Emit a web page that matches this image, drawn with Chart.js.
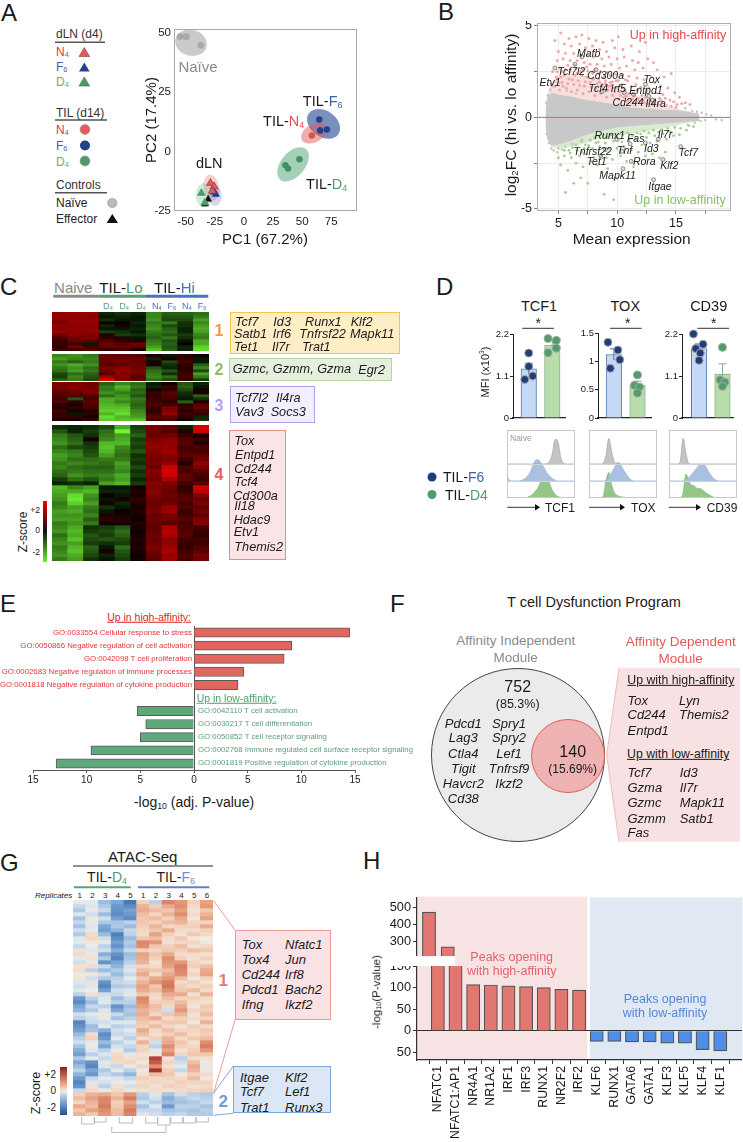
<!DOCTYPE html>
<html>
<head>
<meta charset="utf-8">
<script src="https://cdn.jsdelivr.net/npm/chart.js@4"></script>
<style>
html,body{margin:0;padding:0;background:#fff}
#page{position:relative;width:743px;height:1142px;overflow:hidden;font-family:"Liberation Sans",Arial,sans-serif;color:#1a1a1a}
#page canvas{position:absolute}
.t{position:absolute;white-space:nowrap;line-height:1}
.t sub{font-size:.62em;vertical-align:-.2em;line-height:0}
.b{position:absolute;box-sizing:border-box}
svg{position:absolute;left:0;top:0}
</style>
</head>
<body>
<div id="page">
<svg width="743" height="1142">
  <polygon points="619,667.7 740,667.7 740,841.7 619,841.7 606.7,755" fill="#f8e1e2"/>
  <polyline points="619,667.7 606.7,755 619,841.7" fill="none" stroke="#f0b8b8" stroke-width="1"/>
  <rect x="417" y="896.7" width="170.3" height="163.3" fill="#f8e3e4"/>
  <rect x="590" y="897.5" width="152.5" height="162.5" fill="#dfe8f3"/>
  <rect x="417" y="956.5" width="38" height="9.5" fill="#fff"/>
  <polyline points="213.5,900.7 235,930" fill="none" stroke="#ee9a9a" stroke-width="1"/>
  <polyline points="213.5,1093.3 235,1020" fill="none" stroke="#ee9a9a" stroke-width="1"/>
  <polyline points="213.5,1093.3 233.3,1066" fill="none" stroke="#7ea6e0" stroke-width="1"/>
  <polyline points="213.5,1115.3 233.3,1113.3" fill="none" stroke="#7ea6e0" stroke-width="1"/>
  <path d="M81.7 1117V1124H94.3V1117M94.3 1117V1122H106V1117M119.3 1117V1123H132.7V1117M145.7 1117V1123H157.7V1117M157.7 1117V1125H170V1117M170.7 1117V1123H182.7V1117M183.3 1117V1123H195.7V1117M196 1117V1122H208.3V1117M111.7 1127V1132.5H166V1126" fill="none" stroke="#aaa" stroke-width="0.8"/>
  <path d="M55 42.3H105M55 120H107M55 192.7H107" stroke="#555" stroke-width="1.6"/>
  <path d="M53.3 296.3H98.3" stroke="#8a8a8a" stroke-width="3"/>
  <path d="M98.3 296.3H146" stroke="#5a9e72" stroke-width="3"/>
  <path d="M146 296.3H208.3" stroke="#4a72c0" stroke-width="3"/>
  <path d="M522.3 328.3H554M610 328.3H641.7M697.3 328.3H729" stroke="#333" stroke-width="1"/>
  <path d="M73 866H213" stroke="#222" stroke-width="1"/>
  <path d="M74 887.3H130.7" stroke="#5aa578" stroke-width="2"/>
  <path d="M138 887.3H209.3" stroke="#6a80c0" stroke-width="2"/>
  <path d="M507.3 507.3H536M589 507.3H621M668.7 507.3H697" stroke="#333" stroke-width="1"/>
  <path d="M535 504L540 507.3L535 510.6ZM620 504L625 507.3L620 510.6ZM696 504L701 507.3L696 510.6Z" fill="#111"/>
  <polygon points="84.3,47.5 89.6,56.5 79,56.5" fill="#e55b5b" stroke="#8a3a3a" stroke-width=".6"/>
  <polygon points="84.3,62.5 89.6,71.5 79,71.5" fill="#24408a"/>
  <polygon points="84.3,77 89.6,86 79,86" fill="#4e9a66" stroke="#3a6a4a" stroke-width=".6"/>
  <circle cx="85" cy="129.5" r="5" fill="#e55b5b" stroke="#999" stroke-width=".6"/>
  <circle cx="85" cy="145.5" r="5" fill="#24408a"/>
  <circle cx="85" cy="161" r="5" fill="#4e9a66" stroke="#999" stroke-width=".6"/>
  <circle cx="112.3" cy="203" r="4.6" fill="#bbb" stroke="#888" stroke-width=".6"/>
  <polygon points="112.3,214 118,223 106.6,223" fill="#111"/>
  <circle cx="432" cy="477" r="4.5" fill="#1f3d7a"/>
  <circle cx="432" cy="494.5" r="4.5" fill="#4f9d69"/>
</svg>
</div>
<script>
// panel A
const pcNaive = [[-54.6,48.3],[-49.4,48.3],[-37,44.7]];
const pcTilF6 = [[64.7,13.5],[71.3,9.3],[65.5,8.9]];
const pcTilN4 = [[58.3,6.8],[65.5,9]];
const pcTilD4 = [[35.6,-5.7],[37.9,-7.1],[47.7,-3.2]];
const pcDlnN4 = [[-28.7,-13.2],[-25.6,-14.6],[-27,-16.5]];
const pcDlnF6 = [[-24.1,-17.9],[-25.5,-17]];
const pcDlnD4 = [[-36.5,-17.4],[-33.6,-21.4]];
const pcEffector = [[-30.7,-20],[-33.3,-22]];
const pcCentres = [[-45.4,45.7],[68.4,11.7],[60.3,7.8],[42.2,-5.3],[-27.9,-15.1],[-25,-18.6],[-34.5,-18.3]];
const pcTicksX = [-50,-25,0,25,50,75];
const pcTicksY = [-25,0,25,50];

// panel B
const maBandX = [3.9,4.05,4.4,5,6,7,8,9,10,11,12,13,14,15,16,17];
const maPinkUp = [.5,1.2,1.9,2.3,2.4,2.35,2.1,1.85,1.6,1.35,1.1,.85,.65,.5,.35,.2];
const maGreyUp = [.5,1.1,1.35,1.25,1.15,1,.9,.8,.7,.55,.5,.45,.4,.4,.3,.2];
const maGreyLo = [-.5,-1.2,-1.55,-1.5,-1.3,-1.05,-.85,-.7,-.55,-.5,-.45,-.4,-.35,-.3,-.25,-.2];
const maGreenLo = [-.5,-1.2,-1.6,-1.7,-1.6,-1.45,-1.25,-1.1,-1,-.9,-.8,-.7,-.6,-.45,-.3,-.2];
const maHigh = [[5.2,4.6],[5.9,4.3],[6.5,4.4],[7,4.5],[7.6,4.3],[8.2,4.2],[8.8,4.1],[9.6,4.2],[10.1,4.4],[4.7,4.2],[5.5,4],[6.1,3.9],[6.8,4],[7.3,3.8],[7.9,3.9],[8.5,3.7],[9.1,3.6],[9.8,3.8],[10.5,3.7],[11.2,3.9],[11.9,3.6],[12.4,4.1],[5,3.6],[5.6,3.5],[6.3,3.5],[6.9,3.4],[7.5,3.4],[8,3.3],[8.7,3.2],[9.3,3.3],[10,3.2],[10.6,3.3],[11.3,3.1],[11.8,3],[12.6,3.2],[13.1,3],[4.9,3.1],[5.4,3.2],[6,3.1],[6.6,3.1],[7.2,3],[7.7,2.9],[8.3,2.9],[8.9,2.8],[9.5,2.9],[10.2,2.7],[10.8,2.8],[11.5,2.6],[12.2,2.7],[13.4,2.6],[14,2.2],[14.6,2.4],[5.1,2.7],[5.8,2.85],[6.4,2.85],[7.4,2.75],[8.1,2.6],[8.6,2.5],[9.2,2.45],[9.9,2.35],[10.4,2.3],[11,2.25],[11.7,2.15],[12.3,2.05],[12.9,2.2],[13.2,1.9],[13.7,1.7],[14.3,1.6],[14.9,1.35],[15.3,1.1],[13.9,1.25],[12.7,1.6],[14.5,.95],[15.8,.8],[16.2,.7],[15.5,.75],[4.5,2.5],[4.4,1.8],[4.8,2.2],[10.9,2],[11.6,1.8],[12,1.65],[13.3,1.35],[14.1,1.05],[14.8,.85],[13.6,1.05],[9.4,2.3],[10.7,2.05],[12.5,1.45],[15.1,.7],
[5.1,1.5],[5.3,1.9],[5.5,2.3],[5.7,1.6],[5.9,2.1],[6.1,1.4],[6.3,1.8],[6.4,2.3],[6.6,1.5],[6.7,2],[6.9,2.5],[7.1,1.3],[7.2,1.7],[7.4,2.2],[7.6,1.4],[7.7,1.9],[7.9,2.4],[8.1,1.2],[8.2,1.6],[8.4,2.1],[8.6,1.3],[8.7,1.8],[8.9,2.2],[9.1,1.1],[9.2,1.5],[9.4,1.9],[9.6,1.2],[9.7,1.6],[9.9,2],[10.1,1],[10.2,1.4],[10.4,1.8],[10.6,1.1],[10.7,1.5],[10.9,.9],[11,1.3],[11.2,1.7],[11.4,.8],[11.5,1.2],[11.7,1.5],[11.9,.9],[12.1,1.2],[12.3,.8],[12.4,1.1],[12.6,.75],[12.8,1],[13,.7],[13.2,1],[13.5,.7],[13.8,.8],[14.2,.65],[14.6,.6],[15,.55],[5.2,2.2],[5.6,2.6],[6,2.5],[6.5,2.65],[7,2.3],[7.5,2.55],[8,2.1],[8.5,1.95],[9,2],[9.5,1.75],[10,1.65],[10.5,1.6],[5,1.9],[5.4,1.7],[5.8,1.85],[6.2,2.05],[6.8,1.75],[7.3,1.95],[7.8,1.65],[8.3,1.85],[8.8,1.5],[9.3,1.7],[9.8,1.4],[10.3,1.2],[10.8,1.15],[11.3,1],[11.8,1.05],[12.2,.95],[13.1,.8],[13.7,.95],[4.7,1.7],[4.9,2.5],[5.3,2.5],[6.6,2.4],[7.1,2.6],[7.9,2.1],[8.4,2.4],[9,1.85],[9.6,1.95],[10.1,2]];
const maLow = [[5.6,-4.1],[6.9,-3.3],[7.5,-3.6],[8.9,-4.2],[9.7,-4.5],[6.3,-3.6],[5.2,-2.6],[5.8,-2.9],[6.5,-2.5],[7.1,-2.7],[7.8,-2.4],[8.3,-2.6],[8.7,-3],[9.2,-2.8],[9.9,-3.3],[5,-2.2],[5.5,-2.1],[6.1,-2.2],[6.8,-2.1],[7.4,-2],[8,-2.2],[8.6,-2.1],[9.1,-2.2],[9.6,-2.3],[10.3,-2.1],[10.8,-2.4],[11.4,-2.7],[5.9,-1.8],[6.6,-1.8],[7.2,-1.7],[7.9,-1.7],[8.5,-1.6],[9.3,-1.7],[10,-1.7],[10.6,-1.6],[11.2,-1.8],[11.8,-1.9],[12.4,-2.1],[13,-2],[13.6,-2.2],[14.1,-1.9],[12.1,-1.5],[12.8,-1.4],[13.4,-1.3],[14.2,-1.2],[14.8,-1],[15.3,-.95],[15.9,-.7],[16.5,-.5],[10.4,-1.35],[11,-1.25],[11.6,-1.2],[12.5,-1.1],[13.2,-1],[13.9,-.9],[14.6,-.8],[6.2,-1.65],[7.6,-1.55],[8.2,-1.4],[9,-1.4],[9.7,-1.3],[15.4,-.6],[16.1,-.45],[14.4,-.75],[7,-1.3],[7.3,-1.5],[7.7,-1.25],[8.1,-1.1],[8.4,-1.35],[8.8,-1],[9.2,-1.1],[9.5,-.95],[9.9,-1.05],[10.2,-.9],[10.5,-.95],[10.9,-.85],[11.3,-1],[11.7,-.85],[12,-.9],[12.3,-.75],[12.7,-.85],[13.1,-.7],[13.5,-.8],[13.8,-.65],[14.3,-.6],[14.9,-.55],[6.5,-1.5],[5.5,-1.8],[6,-1.95],[7,-1.9]];
const maGreyExtra = [[4.3,1.5],[4.5,1.7],[4.1,1.2],[4.6,-1.8],[4.9,-1.9],[5.3,-1.75],[4.2,-1.4],[4.4,-1.7],[16.4,.35],[16.8,.3],[17.2,.25],[17.6,.15],[18,.1],[16.6,-.3],[17.1,-.2],[17.5,-.15],[18.4,-.1],[18.9,-.15],[15.8,.5],[16,-.4],[5.7,1.45],[6.5,1.3],[3.95,.8],[4,-.9],[5,-1.7],[5.6,-1.6],[6.2,-1.45],[7,-1.2]];
const maGenes = [[7,3.3],[6.4,2.9],[4.7,2.7],[8.2,2.6],[12.4,1.8],[8.7,1.4],[10.6,1.35],[12.7,1.15],[11.4,1.25],[13,.95],[10,-1.2],[11.1,-1.45],[13.5,-1.2],[9,-1.75],[10.4,-1.85],[12.4,-1.4],[15.4,-1.6],[8.6,-2.1],[11.2,-2.4],[13.9,-2.3],[10.5,-2.8],[13.1,-3.4]];
const maTicksX = [5,10,15];
const maTicksY = [-5,0,5];
const maGridX = [5,7.5,10,12.5,15,17.5];
const maZero = [[3.18,0],[19.69,0]];

// panel C
const rnaCols = ['Naive 1','Naive 2','Naive 3','D4','D4','D4','N4','F6','N4','F6'];
const rnaCluster1 = [
[1.2,1.2,1.2,-.2,-.3,-.2,-1,-.7,-.7,-.8],[1.2,1.2,1.1,-.1,-.2,-.1,-1,-.6,-.6,-.9],[1.1,1.2,1.2,-.3,-.1,-.1,-1.1,-.5,-.5,-1.2],
[1,1.2,1.2,0,0,-.2,-.9,-.9,-.3,-1],[1.2,1.1,1.1,-.2,.1,-.1,-1,-.5,-.3,-1.2],[1.1,1.2,1.2,-.1,-.1,-.2,-1.1,-.7,-.2,-1.3],
[1.2,1.1,1.2,-.4,-.3,-.1,-.9,-.8,-.2,-1.2],[.9,1.1,1,.2,-.4,-.3,-.8,-.6,-.4,-1],[.6,.9,1,.3,.2,-.1,-.7,-.9,-.3,-.9],
[.4,.8,.7,.6,.3,.2,-.9,-.6,-.1,-1.3],[.4,.5,-.1,.9,.7,.9,-1,-.7,0,-1.3],[.3,.9,.5,.8,.8,.7,-1.2,-.6,-.2,-1.6],[.4,.4,.6,.3,.5,.1,-1.5,-.7,-.2,-1.7]];
const rnaCluster2 = [
[-1,-1.1,-.9,.9,.8,.7,.1,-.1,.3,.1],[-1.2,-1,-1,.8,.9,.9,-.2,.1,.4,-.1],[-.9,-.7,-.9,.8,.9,.8,.2,-.5,.5,-.1],
[-1.1,-1.3,-1.1,.7,.8,.9,.1,-.3,.3,-.7],[-.9,-1.1,-.8,1,1.1,.9,-.6,-.2,.2,-1],[-.8,-1.2,-.9,.9,1.2,1,-.8,-.6,.3,-.5],
[-.5,-.8,-.7,.6,1.1,.9,-.9,-.3,.5,-1.2],[-.4,-1,-.6,1.3,1.1,.7,-1,-.8,.5,-.9],[-.7,-.9,-.5,1.9,1,.7,-.8,-.5,.3,-.4]];
const rnaCluster3 = [
[1,1,.9,-.7,-1,-.8,-.1,.1,-.6,-.2],[1,1.1,1,-.9,-1.4,-.9,-.2,.4,-.7,-.1],[.9,1,1,-.9,-1.2,-.7,.1,.3,-.5,.1],
[.7,.8,1,-1.1,-.9,-.8,.4,.7,-.3,.1],[.6,.6,.7,-.8,-1.1,-.6,.3,.6,-.2,-.7],[.5,-.6,.5,-1.3,-1.2,-.9,.4,.5,-.1,-.3],
[.6,.3,.7,-1.3,-1,-.8,.5,.3,-.7,.2],[.3,.1,.6,-1.4,-1.3,-.7,.6,.5,.3,.7],[.2,.3,.5,-1.5,-1.5,-.8,.4,1,.4,.8],
[.5,.1,.2,-1.6,-1.6,-1,.3,1.1,.2,.5],[.3,-.1,.3,-1.4,-1.7,-1.1,.5,1.2,.5,.4],[.4,.3,.1,-1.7,-1.4,-1.2,.7,.8,.3,-.2],[.2,.1,.4,-1.6,-1.5,-1.5,.5,.6,.1,-.3]];
const rnaCluster4 = [
[-.3,-.2,-.3,-.5,-1.3,-.4,1,.8,-.2,1.8],[-.6,-.2,-.4,-.8,-1.9,-.5,.9,.7,.2,1.7],[-.9,-.6,-.3,-.9,-1.2,-.7,.8,.9,.4,.1],
[-1,-.7,.1,-1,-1.3,-.4,1,1.1,.6,.4],[-1.1,-.8,-.3,-1.4,-1.4,-.5,1.1,1.2,.7,.2],[-.8,-.5,-.4,-1.5,-1,-.4,1.2,1.2,.5,.6],
[-1,-.9,-.5,-1.4,-.9,-.6,1.1,1.3,.6,.5],[-1.2,-1,-.6,-1.2,-.8,-.3,1,1.1,.7,.8],[-1.1,-.8,-.8,-.9,-.9,-.4,.9,1,.5,.9],
[-.9,-1,-.9,-.8,-1.2,-.3,1,1.2,.2,1.2],[-1,-.8,-.7,-.7,-1.1,-.5,.8,1.7,.6,1],[-.8,-.9,-.8,-.8,-1,-.3,1.1,1.8,.5,.7],
[-.7,-1.1,-.9,-1,-1.3,-.4,1,1.7,.8,.5],[-.4,-.8,-.6,-.9,-1.2,-.2,.9,1.4,.7,.4],[-.2,-.3,-.2,-1.2,-1.4,-.4,1.1,1,.5,.7],
[-1.4,-1,-1.2,-.1,-.1,.1,1,.9,.3,1.7],[-1.3,-1.3,-1.4,-.2,-.2,.2,1.1,.8,.4,1.6],[-1.2,-1.7,-1.1,0,-.1,.1,1,.9,.6,1.1],
[-1.1,-1.8,-1,-.1,.1,.3,.9,.8,.7,.8],[-.9,-1.6,-1.2,.1,-.2,.2,.8,.9,.5,1],[-1,-1.2,-.9,-.3,-.1,.1,.9,1.2,.6,.7],
[-1.2,-1.3,-.8,-.1,0,.2,1,1.3,.4,.9],[-1.1,-1.1,-1,.2,.1,.1,.8,1,.5,.7],[-1.2,-1.2,-.7,.3,.2,0,.9,.9,.7,1],
[-.9,-1.1,-.9,.1,.1,.2,.8,.7,.5,1.1],[-1,-1.3,-.3,-.4,-.6,.1,.7,1.4,.6,.5],[-1.1,-1.4,-.4,-.5,-.8,0,.8,1.5,.6,.4],
[-.8,-1.3,-.6,-.4,-.7,.1,.9,1.4,.7,.3],[-1,-1.5,-.5,-.6,-.5,.2,.8,1.1,.5,.5],[-1.1,-1.2,-.4,-.3,-.4,.1,.9,1.2,.4,.4],
[-.9,-1.4,-.7,-.1,-.8,.2,1,1.3,.3,.6],[-1,-1.5,-.6,.1,-.6,.1,.9,1.4,.5,.7],[-1.1,-1.3,-.5,-.2,-.5,0,.8,1.2,.6,1],[-.9,-1.2,-.3,-.1,-.4,.1,.7,1.3,.5,.9]];

// panel D
const mfiGroups = [0,1];
const tcf1Means = [1.29,1.91], tcf1Errs = [.14,.13];
const tcf1F6X = [0,0,.17,-.17], tcf1F6Y = [1.7,1.35,1.1,1.01];
const tcf1D4X = [-.18,.17,-.18,.17], tcf1D4Y = [2.08,2.03,1.71,1.83];
const toxMeans = [1.12,.58], toxErrs = [.1,.07];
const toxF6X = [-.25,.17,.25,-.15], toxF6Y = [1.335,1.2,1.03,.876];
const toxD4X = [0,-.13,.08,0], toxD4Y = [.76,.576,.547,.44];
const cd39Means = [1.82,1.15], cd39Errs = [.12,.27];
const cd39F6X = [-.24,.17,-.14,.05,0], cd39F6Y = [2.2,1.93,1.82,1.7,1.51];
const cd39D4X = [0,-.1,.1,0], cd39D4Y = [1.85,1,.94,.83];
const histBins = ['0','1','2','3','4','5','6','7','8','9','10','11','12','13','14','15','16','17','18','19','20','21','22','23','24'];
const tcf1Naive = [0,0,0,0,0,0,0,0,0,0,0,0,0,0,.03,.15,.6,1.45,1.3,.35,.05,0,0,0,0];
const tcf1F6 = [.3,.03,0,0,0,.03,.1,.25,.45,.85,1.2,1.25,1.05,.8,.5,.3,.15,.05,0,0,0,0,0,0,0];
const tcf1D4 = [0,0,0,0,0,0,0,.03,.1,.2,.4,.6,1,1.25,1.2,.85,.45,.2,.08,.04,.02,0,.02,0,0];
const toxNaive = [0,0,0,0,0,.05,.5,1.5,.7,.1,0,0,0,0,0,0,0,0,0,0,0,0,0,0,0];
const toxF6 = [0,0,0,0,0,0,.03,.15,.5,.8,1.1,1,.7,.45,.2,.05,0,0,0,0,0,0,0,0,0];
const toxD4 = [0,0,0,0,.02,.1,1,1.5,.75,.3,.15,.08,.05,.03,.02,0,.01,0,0,0,0,0,0,0,0];
const cd39Naive = [0,0,0,0,.2,1.5,.6,.03,0,0,0,0,0,0,0,0,0,0,0,0,0,0,0,0,0];
const cd39F6 = [0,0,0,0,0,0,.05,.2,.4,.6,.8,1,.95,.85,.55,.3,.1,.02,0,0,0,0,0,0,0];
const cd39D4 = [0,0,0,0,0,.3,1.4,1,.75,.7,.55,.55,.45,.3,.2,.1,.03,0,0,0,0,0,0,0,0];

// panel E
const goTerms = ['GO:0033554 Cellular response to stress','GO:0050866 Negative regulation of cell activation','GO:0042098 T cell proliferation','GO:0002683 Negative regulation of immune processes','GO:0001818 Negative regulation of cytokine production','','GO:0042110 T cell activation','GO:0030217 T cell differentiation','GO:0050852 T cell receptor signaling','GO:0002768 Immune regulated cell surface receptor signaling','GO:0001819 Positive regulation of cytokine production'];
const goValues = [14.5,9.1,8.4,4.65,4.1,null,-5.3,-4.5,-5,-9.6,-12.85];
const goTicks = [-15,-10,-5,0,5,10,15];

// panel F
const vennX = [88,138];
const vennY = [90,91];
const vennCounts = [752,140];

// panel G
const atacCols = ['D4-1','D4-2','D4-3','D4-4','D4-5','F6-1','F6-2','F6-3','F6-4','F6-5','F6-6'];
const atacRows = [
[-.1,-.2,-.9,-1.2,-1.9,.5,-.6,1.3,1.1,.5,1],[-.5,-.3,-.7,-1.4,-1.6,.8,.5,.9,1.2,.3,1.1],[-.7,-.1,-.5,-1.5,-1.3,.9,.7,.6,1,.2,.6],
[-.3,-.4,-.9,-1.6,-1.4,.7,.4,.8,1.2,.3,.8],[-.8,-.2,-.4,-1.3,-1.6,.6,.7,.5,.9,.1,1],[-.5,.1,-.7,-.8,-.6,.6,.5,.7,.8,.4,.4],
[-.8,-.3,-1.2,-.7,-.9,.5,.8,.4,.5,.5,.9],[-.4,-.2,-1.3,-1,-.5,.4,.6,.9,.3,.3,.5],[-.7,.3,-.9,-1.8,-.6,.3,1,.5,.2,.6,.3],
[-.3,.4,-.4,-1.6,-.9,.6,.7,.3,.6,.1,0],[-.2,.1,-.2,-1.3,-.7,1.3,1.1,.2,.4,.4,.1],[-.5,-.1,-.6,-1.5,-.8,1.2,.6,.5,.7,.2,.4],
[.2,-.3,-.4,-1.1,-.5,.5,.4,.6,.5,.7,.6],[.3,.1,-1.1,-1.5,-.9,1,.6,.9,.3,.3,.2],[-.2,.2,-.7,-1.7,-.8,.9,.5,1.2,.5,.2,.5],
[-.4,-.2,-1.5,-1.2,-.6,.8,.2,1.1,1.1,.4,.2],[.2,.3,-.5,-1,-.4,.4,.3,1,1.4,.5,.7],[.3,-.6,-.9,-.7,-.3,.7,.6,.7,1.3,.2,.9],
[-.1,.1,-.4,-.9,-.5,.9,.3,.9,1.2,.4,1],[.1,-.4,-.7,-.6,-.2,.6,.9,1.1,.7,.1,.4],[-.3,.2,-1.5,-.5,-.4,.8,1.1,1.4,.3,.5,.2],
[-.4,-.3,-1.7,-.7,-.6,1,.6,1.5,.5,.3,.5],[-.2,0,-1.3,-.4,-.3,.9,.7,1.2,.6,.7,.3],[-.6,.2,-.4,-.5,-.2,.6,.4,.9,.9,.2,.8],
[-1.4,-.6,-.3,-.9,-.5,1.3,.3,.7,.4,.5,.3],[-1.6,-.9,-.2,-.6,-.6,1.2,.5,.5,.7,.3,.2],[-1.2,-.5,-.6,-1.5,-.9,1,.7,.3,.9,.1,.6],
[-1,-.7,-.3,-1.2,-.7,.8,.6,-.4,1.1,.4,.5],[-.4,-.2,.1,-.5,-.8,.9,.4,.6,.8,.2,.7],[-.6,-.4,-.2,-.8,-.6,.7,.9,.3,.5,.3,.4],
[-1.7,-.5,-.4,-.3,-.3,.6,.4,.6,.6,.1,.8],[-1.5,-.9,-.2,-.6,-.5,.5,.7,.4,.2,.5,.3],[-1.3,-.8,-1.1,-.4,-.2,.9,.3,.7,.4,.4,.6],
[-.9,.3,-1.6,-.5,-.4,.7,.2,.5,.7,.3,.5],[-.6,.5,-1.4,-.2,-.6,.3,.5,.8,.3,.6,.7],[-.4,-.2,-.9,-.6,-.3,.8,-.4,.9,.6,.2,1.2],
[-.8,.1,-1.2,-.4,-.5,.4,-.6,1.2,.5,.4,1.4],[-1.1,-.3,-.6,-.1,-.7,.5,-.2,1,.2,.5,1.1],[-1.3,-.6,-.3,.3,-.2,.2,.1,1.3,.4,.6,.6],
[-.7,-.2,-.5,.4,.2,.3,2.1,.2,-.6,.3,.2],[-1.2,-1.5,-.2,.3,.4,.1,1.8,.4,-.4,.7,.1],[-.9,-1.7,-.3,-.5,.1,.4,1.2,.2,-.2,.9,-.2],
[-.6,-1.2,-.7,-.2,-.6,-.1,2.3,.5,-.5,.8,.1],[-1,-1.4,-.5,-.7,-1,.2,.7,.6,.1,.5,.3],[-1.4,-.5,-.2,-.3,-.5,.5,.3,.4,.3,.7,.1],
[-1.7,-.3,-.4,-.1,-.2,.3,.4,.3,.5,.4,.4],[-1.5,.2,-.6,.2,-.4,.4,.2,.5,.4,.2,.3],[-.5,.3,-.1,.4,.1,.2,.3,.2,.3,.4,.5],
[.5,.8,.9,.6,1.1,-.6,-.3,-.8,-.4,-.6,-.7],[.7,1,1.3,.8,1.4,-.7,-.4,-1.1,-.7,-.5,-.6],[.4,.8,1.3,.5,1,-.4,-.6,-.9,-.8,-.7,-.5],
[.9,.7,1.4,.6,1.2,-.8,-.3,-1.4,-.6,-.6,-.8],[.6,1,1.2,.7,1.4,-.5,-.5,-.8,-.7,-.8,-.6],[.8,.6,1.1,.7,1.3,-.3,-.4,-.6,-.5,-.7,-.7]];
const replicateLabels = [1,2,3,4,5,1,2,3,4,5,6];

// panel H
const motifNames = ['NFATC1','NFATC1:AP1','NR4A1','NR1A2','IRF1','IRF3','RUNX1','NR2F2','IRF2','KLF6','RUNX1','GATA6','GATA1','KLF3','KLF5','KLF4','KLF1'];
const motifValues = [471,270,107,106,104,102,100,96,94,-25,-25,-26,-26,-29,-29,-44,-47];
const motifTicksUpper = [300,400,500];
const motifTicksLower = [-50,0,50,100,150];

const FONT = '"Liberation Sans"';
Chart.defaults.font.family = FONT;
Chart.defaults.color = '#1a1a1a';
Chart.defaults.animation = false;
Chart.defaults.responsive = false;
Chart.defaults.events = [];
Chart.defaults.plugins.legend.display = false;
Chart.defaults.plugins.tooltip.enabled = false;

const page = document.getElementById('page');

// area is the plot rectangle in page pixels, pad the room round it for axes
function addChart(area, pad, cfg) {
  const [x0, y0, x1, y1] = area;
  const ex = pad.x || 0;
  const c = document.createElement('canvas');
  c.width = x1 - x0 + pad.l + pad.r + 2 * ex;
  c.height = y1 - y0 + pad.t + pad.b;
  c.style.left = (x0 - pad.l - ex) + 'px';
  c.style.top = (y0 - pad.t) + 'px';
  c.style.width = c.width + 'px';
  c.style.height = c.height + 'px';
  page.appendChild(c);
  cfg.options = cfg.options || {};
  cfg.options.maintainAspectRatio = false;
  // autoPadding off, otherwise big points shrink the plot rectangle
  cfg.options.layout = {autoPadding: false, padding: {left: ex, right: pad.r + ex, top: pad.t, bottom: 0}};
  return new Chart(c, cfg);
}

function axis(size, list, o) {
  const base = {
    display: true,
    afterBuildTicks: s => { s.ticks = list.map(v => ({value: v})); },
    afterFit: s => {
      if (s.isHorizontal()) s.height = size; else s.width = size;
      s.paddingLeft = s.paddingRight = s.paddingTop = s.paddingBottom = 0;
    },
    grid: {display: false, drawTicks: false},
    border: {display: false},
    ticks: {autoSkip: false, maxRotation: 0, minRotation: 0, callback: v => String(v)}
  };
  return Object.assign(base, o);
}

function hidden(o) { return Object.assign({display: false}, o); }

function text(x, y, html, o) {
  o = o || {};
  const d = document.createElement('div');
  d.className = 't';
  d.innerHTML = html;
  const ax = o.a === 'c' ? '-50%' : o.a === 'r' ? '-100%' : '0';
  d.style.left = x + 'px';
  d.style.top = y + 'px';
  d.style.fontSize = (o.s || 12) + 'px';
  if (o.c) d.style.color = o.c;
  if (o.i) d.style.fontStyle = 'italic';
  if (o.b) d.style.fontWeight = 'bold';
  if (o.u) d.style.textDecoration = 'underline';
  d.style.transform = 'translate(' + ax + ',-50%)' + (o.rot ? ' rotate(' + o.rot + 'deg)' : '');
  page.appendChild(d);
}

function box(x0, y0, x1, y1, fill, border) {
  const d = document.createElement('div');
  d.className = 'b';
  d.style.cssText = 'left:' + x0 + 'px;top:' + y0 + 'px;width:' + (x1 - x0) + 'px;height:' + (y1 - y0) + 'px;background:' + fill + ';border:' + (border ? '1.2px solid ' + border : 'none');
  page.appendChild(d);
}

const pairs = list => list.map(p => ({x: p[0], y: p[1]}));
const zip = (xs, ys) => xs.map((x, i) => ({x: x, y: ys[i]}));

// coloured boxes that sit behind everything
box(230, 312.3, 400, 354.3, '#fdeec6', '#f6c44e');
box(229.3, 357.7, 391.7, 381.3, '#e5efdd', '#b7d2a4');
box(230.3, 386.3, 314.7, 422.7, '#f3efff', '#b69cf0');
box(229.3, 430.3, 285.7, 560.3, '#fae4e6', '#e98c8c');
box(235, 930, 330.7, 1020, '#f8e2e3', '#ee9a9a');
box(233.3, 1066, 330.7, 1113.3, '#dce7f5', '#7ea6e0');
box(60.3, 1067.3, 66.7, 1115.3, 'linear-gradient(#8f1d22,#e8a585 35%,#f0ebe4 50%,#9dbde0 65%,#214f94)');
box(42.7, 501, 47.3, 562.3, 'linear-gradient(#ee0000,#111 50%,#6cf02c)');

// ---- A: PCA
const ellipseShapes = [
  [16, 13, 15, 'rgba(150,150,150,.5)'],
  [18, 13, 35, 'rgba(40,75,150,.62)'],
  [14, 9, -30, 'rgba(228,90,90,.5)'],
  [20, 12, -50, 'rgba(90,170,125,.55)'],
  [13, 8, 80, 'rgba(228,110,110,.32)'],
  [10, 7, 90, 'rgba(70,100,190,.25)'],
  [12, 8, 90, 'rgba(110,190,140,.3)']
];
const pcEllipses = {
  id: 'pcEllipses',
  beforeDatasetsDraw(chart) {
    const ctx = chart.ctx, sx = chart.scales.x, sy = chart.scales.y;
    pcCentres.forEach((c, i) => {
      const e = ellipseShapes[i];
      ctx.beginPath();
      ctx.ellipse(sx.getPixelForValue(c[0]), sy.getPixelForValue(c[1]), e[0], e[1], e[2] * Math.PI / 180, 0, 7);
      ctx.fillStyle = e[3];
      ctx.fill();
    });
  }
};
const dot = (list, color, style, r, edge) => ({data: pairs(list), backgroundColor: color, borderColor: edge || color, borderWidth: .6, pointStyle: style, pointRadius: r});
addChart([174, 29, 357, 211], {l: 30, b: 20, t: 2, r: 3}, {
  type: 'scatter',
  data: {datasets: [
    dot(pcNaive, '#a9a9a9', 'circle', 3.2),
    dot(pcTilF6, '#24408a', 'circle', 3),
    dot(pcTilN4, '#df5050', 'circle', 3),
    dot(pcTilD4, '#3f9160', 'circle', 3),
    dot(pcDlnN4, '#e55b5b', 'triangle', 4.6, '#7a3030'),
    dot(pcDlnF6, '#24408a', 'triangle', 4.2),
    dot(pcDlnD4, '#4e9a66', 'triangle', 4.6),
    dot(pcEffector, '#111', 'triangle', 4)
  ]},
  options: {scales: {
    x: axis(20, pcTicksX, {min: -60, max: 97.1, ticks: {autoSkip: false, maxRotation: 0, padding: 4, font: {size: 11.5}, callback: v => String(v)}}),
    y: axis(30, pcTicksY, {min: -24.9, max: 51.5, ticks: {autoSkip: false, padding: 3, font: {size: 11.5}, callback: v => String(v)}})
  }},
  plugins: [pcEllipses]
});
box(174, 29, 357, 211, 'transparent', '#a8a8a8');

// ---- B: MA plot
const band = (ys, color) => ({data: zip(maBandX, ys), showLine: true, pointRadius: 0, borderWidth: 0, borderColor: 'transparent', backgroundColor: color, fill: color ? '+1' : false});
const speck = (list, color, r) => ({data: pairs(list), backgroundColor: color, borderWidth: 0, pointRadius: r});
addChart([537, 23, 731, 211], {l: 22, b: 20, t: 2, r: 3}, {
  type: 'scatter',
  data: {datasets: [
    {data: pairs(maZero), showLine: true, pointRadius: 0, borderWidth: 1, borderColor: '#d9605a'},
    {data: pairs(maGenes), backgroundColor: 'rgba(190,190,190,.5)', borderColor: '#666', borderWidth: .7, pointRadius: 2},
    speck(maGreyExtra, '#c6c6c6', 1.3),
    band(maGreyUp, '#c8c8c8'),
    band(maGreyLo, null),
    speck(maHigh, '#eeaaa8', 1.5),
    speck(maLow, '#a4ce90', 1.4),
    band(maPinkUp, '#f8dfdd'),
    band(maGreyUp, null),
    band(maGreyLo, '#d8ead0'),
    band(maGreenLo, null)
  ]},
  options: {scales: {
    x: axis(20, maGridX, {min: 3.18, max: 19.69, grid: {display: true, color: '#ececec', drawTicks: true, tickColor: '#888', tickLength: 3}, ticks: {autoSkip: false, maxRotation: 0, padding: 2, font: {size: 12.5}, callback: v => maTicksX.includes(v) ? String(v) : ''}}),
    y: axis(22, [-5, -2.5, 0, 2.5, 5], {min: -5.11, max: 5.15, grid: {display: true, color: '#ececec', drawTicks: true, tickColor: '#888', tickLength: 3}, ticks: {autoSkip: false, padding: 2, font: {size: 12.5}, callback: v => maTicksY.includes(v) ? String(v) : ''}})
  }}
});
box(537, 23, 731, 211, 'transparent', '#b0b0b0');

// ---- C and G heatmaps
function heat(area, cols, rows, colour) {
  addChart(area, {l: 0, b: 0, t: 0, r: 0}, {
    type: 'bar',
    data: {
      labels: cols,
      datasets: rows.map(r => ({data: r.map(() => 1), backgroundColor: r.map(colour), borderWidth: 0, barPercentage: 1, categoryPercentage: 1}))
    },
    options: {scales: {x: hidden({stacked: true}), y: hidden({stacked: true, reverse: true, min: 0, max: rows.length})}}
  });
}
function redGreen(z) {
  const k = Math.min(Math.abs(z) / 2, 1);
  if (z >= 0) return 'rgb(' + Math.round(12 + 225 * k) + ',0,0)';
  return 'rgb(' + Math.round(118 * k) + ',' + Math.round(12 + 243 * k) + ',' + Math.round(56 * k) + ')';
}
const blueRedStops = [[-2.5,33,79,148],[-1.2,122,167,214],[-.3,220,230,239],[0,240,235,228],[.5,243,208,186],[1.2,224,143,110],[2.5,161,31,37]];
function blueRed(z) {
  for (let i = 1; i < blueRedStops.length; i++) {
    const a = blueRedStops[i - 1], b = blueRedStops[i];
    if (z <= b[0]) {
      const k = Math.max(0, (z - a[0]) / (b[0] - a[0]));
      return 'rgb(' + [1, 2, 3].map(j => Math.round(a[j] + (b[j] - a[j]) * k)).join(',') + ')';
    }
  }
  return 'rgb(161,31,37)';
}
heat([52, 312, 209, 351], rnaCols, rnaCluster1, redGreen);
heat([52, 354, 209, 381], rnaCols, rnaCluster2, redGreen);
heat([52, 382, 209, 421], rnaCols, rnaCluster3, redGreen);
heat([52, 425, 209, 561], rnaCols, rnaCluster4, redGreen);
heat([73, 900, 213, 1116], atacCols, atacRows, blueRed);

// ---- D: bars with points, then flow histograms
function mfi(area, maxY, ticks, means, errs, f6x, f6y, d4x, d4y, minX, maxX) {
  const whiskers = {
    id: 'whiskers',
    afterDatasetDraw(chart, args) {
      if (args.index !== 2) return;
      const ctx = chart.ctx, sx = chart.scales.x, sy = chart.scales.y;
      means.forEach((m, i) => {
        const px = sx.getPixelForValue(mfiGroups[i]);
        const top = sy.getPixelForValue(m + errs[i]), low = sy.getPixelForValue(m - errs[i]);
        ctx.strokeStyle = i ? '#7fb088' : '#4a6aa5';
        ctx.lineWidth = 1;
        ctx.beginPath();
        ctx.moveTo(px - 4, top); ctx.lineTo(px + 4, top);
        ctx.moveTo(px, top); ctx.lineTo(px, low);
        ctx.stroke();
      });
    }
  };
  const pts = (xs, ys, group, colour) => ({type: 'scatter', order: 0, clip: false, data: xs.map((x, i) => ({x: mfiGroups[group] + x, y: ys[i]})), backgroundColor: colour, borderColor: '#a5a5a5', borderWidth: 1, pointRadius: 4});
  addChart(area, {l: 24, b: 6, t: 8, r: 2}, {
    type: 'bar',
    data: {datasets: [
      pts(f6x, f6y, 0, '#1f3d7a'),
      pts(d4x, d4y, 1, '#4f9d69'),
      {type: 'bar', order: 1, data: zip(mfiGroups, means), barThickness: 15.5, backgroundColor: ['#c5d8f5', '#b9dcab'], borderColor: ['#5a7bb0', '#84b58c'], borderWidth: 1}
    ]},
    options: {scales: {
      x: axis(6, [], {type: 'linear', min: minX, max: maxX, border: {display: true, color: '#222', width: 1.2}, ticks: {display: false}}),
      y: axis(24, ticks, {min: 0, max: maxY, border: {display: true, color: '#222', width: 1}, grid: {display: true, drawOnChartArea: false, tickColor: '#222', tickLength: 3}, ticks: {autoSkip: false, padding: 1, font: {size: 9.5}, callback: v => String(v)}})
    }},
    plugins: [whiskers]
  });
}
mfi([513, 334, 565, 418], 2.2, [0, 1.1, 2.2], tcf1Means, tcf1Errs, tcf1F6X, tcf1F6Y, tcf1D4X, tcf1D4Y, -.67, 1.54);
mfi([598, 333, 651, 418], 1.5, [0, .5, 1, 1.5], toxMeans, toxErrs, toxF6X, toxF6Y, toxD4X, toxD4Y, -.67, 1.57);
mfi([682, 334, 733, 418], 2.2, [0, 1.1, 2.2], cd39Means, cd39Errs, cd39F6X, cd39F6Y, cd39D4X, cd39D4Y, -.73, 1.45);

function flow(area, naive, f6, d4) {
  const hist = (h, base, line, fill) => ({data: h.map(v => v + base), borderColor: line, borderWidth: .8, backgroundColor: fill, fill: {value: base}, pointRadius: 0, tension: .25, cubicInterpolationMode: 'monotone'});
  addChart(area, {l: 0, b: 0, t: 0, r: 0}, {
    type: 'line',
    data: {labels: histBins, datasets: [
      hist(naive, 2, '#a8a8a8', '#c4c4c4'),
      hist(f6, 1, '#9cb6dc', '#aac0e0'),
      hist(d4, 0, '#7db878', 'rgba(125,185,110,.82)')
    ]},
    options: {scales: {
      x: hidden({offset: false}),
      y: hidden({min: 0, max: 4})
    }}
  });
  box(area[0], area[1], area[2], area[3], 'transparent', '#c8c8c8');
  box(area[0], area[3] - 34, area[2], area[3] - 33, '#d2d2d2');
  box(area[0], area[3] - 17, area[2], area[3] - 16, '#c4d4ea');
}
flow([507, 430, 575, 498], tcf1Naive, tcf1F6, tcf1D4);
flow([589, 430, 657, 498], toxNaive, toxF6, toxD4);
flow([669, 430, 737, 498], cd39Naive, cd39F6, cd39D4);

// ---- E: GO terms
addChart([33, 626, 355, 770], {l: 0, b: 18, t: 0, r: 0, x: 12}, {
  type: 'bar',
  data: {labels: goTerms, datasets: [{
    data: goValues,
    barThickness: 9.3,
    backgroundColor: goValues.map(v => v > 0 ? '#e0665f' : '#5fa87c'),
    borderColor: '#5a5a5a',
    borderWidth: 1
  }]},
  options: {
    indexAxis: 'y',
    scales: {
      x: axis(18, goTicks, {min: -15, max: 15, border: {display: true, color: '#555', width: 1},
        grid: {display: true, color: c => c.tick && c.tick.value === 0 ? '#555' : 'transparent', tickColor: '#555', tickLength: 3},
        ticks: {autoSkip: false, maxRotation: 0, padding: 1, font: {size: 10}, callback: v => String(Math.abs(v))}}),
      y: hidden({})
    }
  }
});

// ---- F: venn
const vennStyle = [['#ebebeb', '#444', 86.5], ['#eeb2b2', '#e25c5c', 36.5]];
addChart([430, 665, 610, 845], {l: 0, b: 0, t: 0, r: 0}, {
  type: 'bubble',
  data: {datasets: vennCounts.map((n, i) => ({
    label: String(n),
    order: -i,
    clip: false,
    data: [{x: vennX[i], y: vennY[i], r: vennStyle[i][2]}],
    backgroundColor: vennStyle[i][0],
    borderColor: vennStyle[i][1],
    borderWidth: 1
  }))},
  options: {scales: {x: hidden({type: 'linear', min: 0, max: 180}), y: hidden({type: 'linear', min: 0, max: 180, reverse: true})}}
});

// ---- H: broken axis, two charts sharing the x positions
function motifChart(area, pad, minY, maxY, ticks, showNames) {
  addChart(area, pad, {
    type: 'bar',
    data: {datasets: [{
      data: motifValues.map((v, i) => ({x: i + 1, y: v})),
      barThickness: 13.2,
      backgroundColor: motifValues.map(v => v > 0 ? '#e27771' : '#4f8ee8'),
      borderColor: '#555',
      borderWidth: 1.2
    }]},
    options: {scales: {
      x: showNames
        ? axis(pad.b, motifNames.map((n, i) => i + 1), {type: 'linear', min: .36, max: 17.69,
            border: {display: true, color: '#333', width: 1.2},
            grid: {display: true, drawOnChartArea: false, tickColor: '#333', tickLength: 4},
            ticks: {autoSkip: false, maxRotation: 90, minRotation: 90, padding: 2, font: {size: 12.3}, callback: v => motifNames[v - 1]}})
        : axis(0, [], {type: 'linear', min: .36, max: 17.69, display: false}),
      y: axis(pad.l, ticks, {min: minY, max: maxY, border: {display: true, color: '#333', width: 1.2},
        grid: {display: true, color: c => c.tick && c.tick.value === 0 ? '#333' : 'transparent', tickColor: '#333', tickLength: 4},
        ticks: {autoSkip: false, padding: 2, font: {size: 12.8}, callback: v => String(Math.abs(v))}})
    }}
  });
}
motifChart([417, 897, 742, 956], {l: 34, b: 0, t: 0, r: 0}, 217, 558, motifTicksUpper, false);
motifChart([417, 966, 742, 1060], {l: 34, b: 84, t: 0, r: 0}, -68, 150, motifTicksLower, true);

// ---- text
[['A', 1, 13], ['C', 0, 287], ['E', 0, 604], ['G', 0, 863]].forEach(p => text(p[1], p[2], p[0], {s: 24}));
[['B', 438, 12], ['D', 436, 287], ['F', 390, 604], ['H', 363, 861]].forEach(p => text(p[1], p[2], p[0], {s: 24}));

const RED = '#e8333a', BLUE = '#3f5fa8', GREEN = '#5eb56a';
const sm = 12;
text(56, 34.3, 'dLN (d4)', {s: sm, c: '#333'});
text(56, 52, 'N<sub>4</sub>', {s: sm, c: RED});
text(56, 67, 'F<sub>6</sub>', {s: sm, c: BLUE});
text(56, 82, 'D<sub>4</sub>', {s: sm, c: GREEN});
text(56, 112.7, 'TIL (d14)', {s: sm, c: '#333'});
text(56, 130, 'N<sub>4</sub>', {s: sm, c: RED});
text(56, 145.5, 'F<sub>6</sub>', {s: sm, c: BLUE});
text(56, 161.5, 'D<sub>4</sub>', {s: sm, c: GREEN});
text(56, 185, 'Controls', {s: sm, c: '#333'});
text(56, 203, 'Naïve', {s: sm, c: '#222'});
text(56, 219, 'Effector', {s: sm, c: '#222'});
text(198, 66, 'Naïve', {s: 15, c: '#8a8a8a', a: 'c'});
text(322.7, 101, 'TIL-<span style="color:#3f5fa8">F<sub>6</sub></span>', {s: 14.5, a: 'c'});
text(283.7, 120.7, 'TIL-<span style="color:#e8484a">N<sub>4</sub></span>', {s: 14.5, a: 'c'});
text(209.3, 163.3, 'dLN', {s: 14.5, a: 'c'});
text(326.7, 184, 'TIL-<span style="color:#4f9d69">D<sub>4</sub></span>', {s: 14.5, a: 'c'});
text(150, 120, 'PC2 (17.4%)', {s: 15, a: 'c', rot: -90});
text(265, 238.3, 'PC1 (67.2%)', {s: 15, a: 'c'});

text(511, 115, 'log<sub>2</sub>FC (hi vs. lo affinity)', {s: 15.5, a: 'c', rot: -90});
text(631.7, 238.7, 'Mean expression', {s: 15.5, a: 'c'});
text(678, 34.5, 'Up in high-affinity', {s: 12.5, c: '#e8474c', a: 'c'});
text(680, 200, 'Up in low-affinity', {s: 12.5, c: '#85bd6a', a: 'c'});
const maLabels = [['Mafb',476,160],['Tcf7l2',424,213],['Cd300a',527,225],['Etv1',360,245],['Tox',665,237],['Tcf4',505,263],['Irf5',565,263],['Entpd1',648,270],['Cd244',594,305],['Il4ra',677,308],['Runx1',539,405],['Fas',617,415],['Il7r',705,402],['Tnfrsf22',488,452],['Tnf',584,450],['Id3',664,445],['Tcf7',775,457],['Tet1',500,484],['Rora',643,483],['Klf2',718,495],['Mapk11',563,525],['Itgae',690,558]];
maLabels.forEach(l => text(430 + l[1] / 3, l[2] / 3, l[0], {s: 10.5, i: 1, a: 'c'}));

text(73.3, 286.7, 'Naive', {s: 15, c: '#888', a: 'c'});
text(99.3, 286.7, 'TIL-<span style="color:#4f9d69">Lo</span>', {s: 15});
text(154, 286.7, 'TIL-<span style="color:#4a72c0">Hi</span>', {s: 15});
[[107.7,'D',4],[124,'D',4],[141,'D',4],[156.7,'N',4],[171.7,'F',6],[186.7,'N',4],[202,'F',6]].forEach(p =>
  text(p[0], 305.7, p[1] + '<sub>' + p[2] + '</sub>', {s: 9, c: p[1] === 'D' ? '#5aa578' : '#4a72c0', a: 'c'}));
text(219, 331, '1', {s: 16, b: 1, c: '#ef9b3c', a: 'c'});
text(219, 370.3, '2', {s: 16, b: 1, c: '#8fbb60', a: 'c'});
text(219, 405.7, '3', {s: 16, b: 1, c: '#b69af0', a: 'c'});
text(219, 475, '4', {s: 16, b: 1, c: '#e86060', a: 'c'});
const clusterGenes = [['Tcf7',705,170],['Id3',820,170],['Runx1',915,170],['Klf2',1052,170],['Satb1',702,207],['Irf6',818,207],['Tnfrsf22',898,207],['Mapk11',1050,207],['Tet1',702,246],['Il7r',816,246],['Trat1',906,246],['Gzmc, Gzmm, Gzma',698,313],['Egr2',1075,316],['Tcf7l2',705,398],['Il4ra',828,398],['Vav3',706,440],['Socs3',812,440],['Tox',703,528],['Entpd1',705,570],['Cd244',703,611],['Tcf4',703,651],['Cd300a',700,692],['Il18',703,724],['Hdac9',701,765],['Etv1',701,802],['Themis2',703,847]];
clusterGenes.forEach(g => text(g[1] / 3, 265 + g[2] / 3, g[0], {s: 12.7, i: 1}));
text(40, 510, '+2', {s: 8.5, a: 'r'});
text(40, 530, '0', {s: 8.5, a: 'r'});
text(40, 552.3, '-2', {s: 8.5, a: 'r'});
text(22.7, 531.7, 'Z-score', {s: 12, a: 'c', rot: -90});

text(539, 305.7, 'TCF1', {s: 14.5, a: 'c'});
text(625.3, 305.7, 'TOX', {s: 14.5, a: 'c'});
text(708.7, 305.7, 'CD39', {s: 14.5, a: 'c'});
[538.3, 627.7, 713.7].forEach(x => text(x, 323, '*', {s: 14, a: 'c'}));
text(485, 372, 'MFI (x10<sup style="font-size:.6em;line-height:0">3</sup>)', {s: 11, a: 'c', rot: -90});
text(510, 438, 'Naive', {s: 8.5, c: '#999'});
text(443, 477, 'TIL-<span style="color:#3f5fa8">F6</span>', {s: 14});
text(445, 494.5, 'TIL-<span style="color:#4f9d69">D4</span>', {s: 14});
text(560, 508, 'TCF1', {s: 12, a: 'c'});
text(643.3, 508, 'TOX', {s: 12, a: 'c'});
text(722, 508, 'CD39', {s: 12, a: 'c'});

text(191, 617, 'Up in high-affinity:', {s: 10.5, c: '#e01f26', a: 'r', u: 1});
text(196.7, 698, 'Up in low-affinity:', {s: 10.5, c: '#4f9d69', u: 1});
goTerms.forEach((g, i) => {
  if (!g) return;
  const y = 632.5 + i * 13;
  if (goValues[i] > 0) text(192, y, g, {s: 7.8, c: '#e5333a', a: 'r'});
  else text(198, y, g, {s: 7.8, c: '#5a9d78'});
});
text(194, 802, '-log<sub>10</sub> (adj. P-value)', {s: 14, a: 'c'});

text(594, 601.7, 'T cell Dysfunction Program', {s: 14.5, a: 'c'});
text(515.7, 641, 'Affinity Independent', {s: 13.5, c: '#8a8a8a', a: 'c'});
text(515.7, 658.3, 'Module', {s: 13.5, c: '#8a8a8a', a: 'c'});
text(680.7, 641.7, 'Affinity Dependent', {s: 13.5, c: '#e8565a', a: 'c'});
text(680.7, 659, 'Module', {s: 13.5, c: '#e8565a', a: 'c'});
text(517.7, 686.7, '752', {s: 16, a: 'c'});
text(517.7, 703.7, '(85.3%)', {s: 12.5, a: 'c'});
text(572.7, 751.7, '140', {s: 16, a: 'c'});
text(572.7, 769, '(15.69%)', {s: 12, a: 'c'});
['Pdcd1','Lag3','Ctla4','Tigit','Havcr2','Cd38'].forEach((g, i) => text(463.3, [722.7,737.3,752.7,768,782.7,798.3][i], g, {s: 13, i: 1, a: 'c'}));
['Spry1','Spry2','Lef1','Tnfrsf9','Ikzf2'].forEach((g, i) => text(509, [722.7,737.3,752.7,768,782.7][i], g, {s: 13, i: 1, a: 'c'}));
text(627.3, 680, 'Up with high-affinity', {s: 12.3, u: 1});
text(627, 754, 'Up with low-affinity', {s: 12.3, u: 1});
[['Tox',627.5,700],['Cd244',627.5,714.3],['Entpd1',627.5,730],['Lyn',679,700],['Themis2',679,714.3],['Tcf7',627.5,772.3],['Gzma',627.5,787],['Gzmc',627.5,802.3],['Gzmm',627.5,817.7],['Fas',627.5,832.3],['Id3',679.7,772.3],['Il7r',679.7,787],['Mapk11',679.7,802.3],['Satb1',679.7,817.7]].forEach(g => text(g[1], g[2], g[0], {s: 13, i: 1}));

text(142.7, 856, 'ATAC-Seq', {s: 15, a: 'c'});
text(107, 877, 'TIL-<span style="color:#4f9d69">D<sub>4</sub></span>', {s: 14, a: 'c'});
text(175.7, 877, 'TIL-<span style="color:#6a90d0">F<sub>6</sub></span>', {s: 14, a: 'c'});
text(72.3, 895.7, 'Replicates', {s: 8, i: 1, a: 'r'});
replicateLabels.forEach((n, i) => text(73.3 + 12.73 * (i + .5), 895.7, String(n), {s: 8, a: 'c'}));
text(223.3, 980, '1', {s: 17, b: 1, c: '#e87878', a: 'c'});
text(223.3, 1100.7, '2', {s: 17, b: 1, c: '#6d9ad8', a: 'c'});
[['Tox',241.7,944],['Tox4',241.7,958.7],['Cd244',241.7,974],['Pdcd1',241.7,989.3],['Ifng',241.7,1004],['Nfatc1',285,944],['Jun',285,958.7],['Irf8',285,974],['Bach2',285,989.3],['Ikzf2',285,1004],['Itgae',240,1076.7],['Tcf7',240,1090.7],['Trat1',240,1106.7],['Klf2',285,1076.7],['Lef1',285,1090.7],['Runx3',285,1106.7]].forEach(g => text(g[1], g[2], g[0], {s: 13, i: 1}));
text(56, 1075, '+2', {s: 10, a: 'r'});
text(56, 1091.3, '0', {s: 10, a: 'r'});
text(56, 1108.3, '-2', {s: 10, a: 'r'});
text(35.7, 1093, 'Z-score', {s: 12.5, a: 'c', rot: -90});

text(376.7, 991.7, '-log<sub>10</sub>(P-value)', {s: 11.5, a: 'c', rot: -90});
text(511.7, 956.7, 'Peaks opening', {s: 12.5, c: '#e2616c', a: 'c'});
text(511.7, 971, 'with high-affinity', {s: 12.5, c: '#e2616c', a: 'c'});
text(665, 999.3, 'Peaks opening', {s: 12.5, c: '#5588d8', a: 'c'});
text(665, 1013.3, 'with low-affinity', {s: 12.5, c: '#5588d8', a: 'c'});
</script>
</body>
</html>
